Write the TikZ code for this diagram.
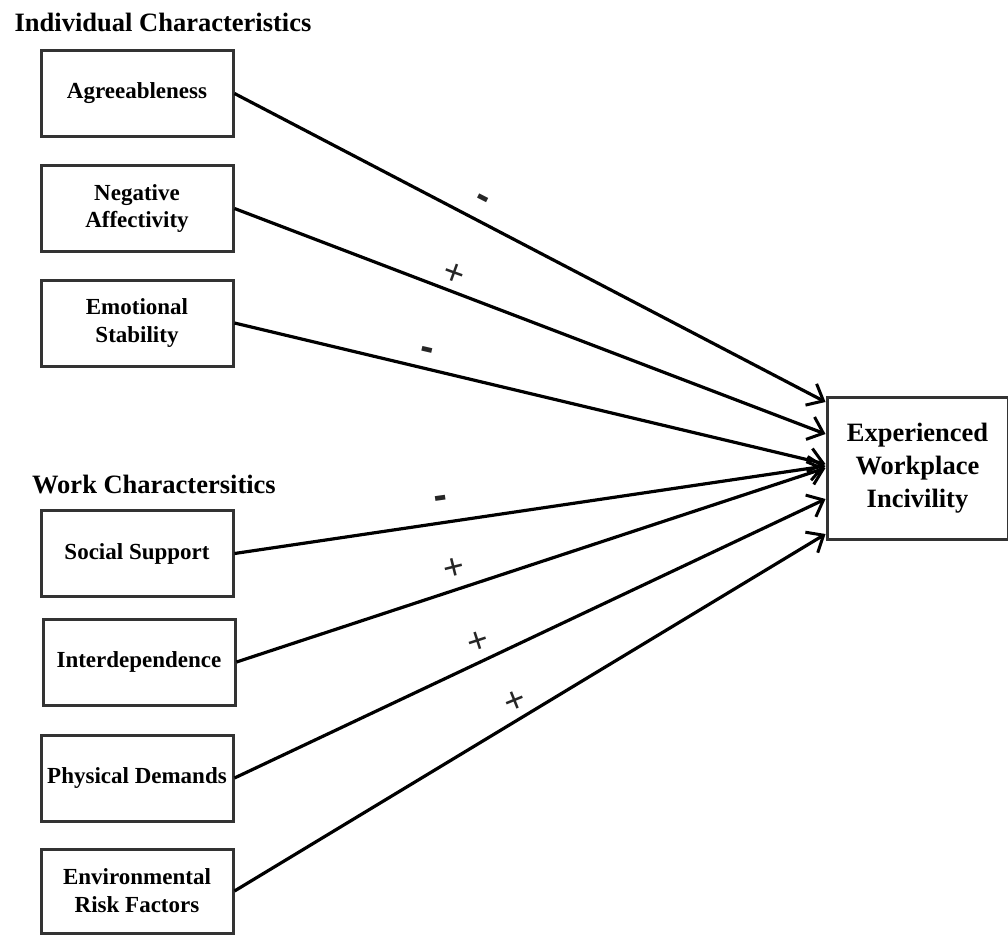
\documentclass[tikz,border=0pt]{standalone}
\usepackage{fontspec}
\setmainfont{Liberation Serif}
\newfontfamily\signfont{Liberation Sans}
\usetikzlibrary{arrows.meta,calc}
\begin{document}
\begin{tikzpicture}[x=1pt,y=1pt,
 box/.style={draw=black!80, line width=3pt, minimum width=192pt, minimum height=86pt, inner sep=0pt, align=center, font=\bfseries\fontsize{23}{28}\selectfont},
 target/.style={box, minimum width=181pt, minimum height=142pt, font=\bfseries\fontsize{26.5}{33}\selectfont},
 head/.style={font=\bfseries\fontsize{26.5}{31}\selectfont, inner sep=0pt, anchor=base},
 link/.style={line width=3.2pt, -{Straight Barb[length=14pt,width=24pt,line width=3pt]}},
 sign/.style={font=\signfont\fontsize{36}{36}\selectfont, inner sep=0pt, anchor=center, text=black!85},
 minus/.style={sign, font=\signfont\bfseries\fontsize{40}{40}\selectfont}]
\useasboundingbox (0,0) rectangle (1008,-934);
\fill[white] (0,0) rectangle (1008,-934);

\node[head] (h1) at (163,-32) {Individual Characteristics};
\node[head] (h2) at (154,-493) {Work Charactersitics};

\node[box] (ag) at (137,-93.5) {Agreeableness};
\node[box] (na) at (137,-208.5) {Negative\\Affectivity};
\node[box] (es) at (137,-323) {Emotional\\Stability};
\node[box] (ss) at (137,-553.5) {Social Support};
\node[box] (id) at (139,-662) {Interdependence};
\node[box] (pd) at (137,-778) {Physical Demands};
\node[box, minimum height=84pt] (er) at (137,-891) {Environmental\\Risk Factors};

\node[target] (t) at (917.5,-468) {Experienced\\Workplace\\Incivility};

\coordinate (e1) at ($(t.west)+(0,66)$);
\coordinate (e2) at ($(t.west)+(0,34)$);
\coordinate (e3) at ($(t.west)+(0,4)$);
\coordinate (e4) at ($(t.west)+(0,2)$);
\coordinate (e5) at ($(t.west)+(0,0)$);
\coordinate (e6) at ($(t.west)+(0,-31)$);
\coordinate (e7) at ($(t.west)+(0,-66)$);

\draw[link] (ag.east) -- node[minus, pos=0.417, yshift=20pt, rotate=-27] {-} (e1);
\draw[link] (na.east) -- node[sign, pos=0.372, yshift=18pt, rotate=-20] {+} (e2);
\draw[link] (es.east) -- node[minus, pos=0.324, yshift=15pt, rotate=-13] {-} (e3);
\draw[link] (ss.east) -- node[minus, pos=0.35, yshift=21pt, rotate=8] {-} (e4);
\draw[link] (id.east) -- node[sign, pos=0.369, yshift=22pt, rotate=14] {+} (e5);
\draw[link] (pd.east) -- node[sign, pos=0.412, yshift=21pt, rotate=18] {+} (e6);
\draw[link] (er.east) -- node[sign, pos=0.475, yshift=20pt, rotate=22] {+} (e7);
\end{tikzpicture}
\end{document}
